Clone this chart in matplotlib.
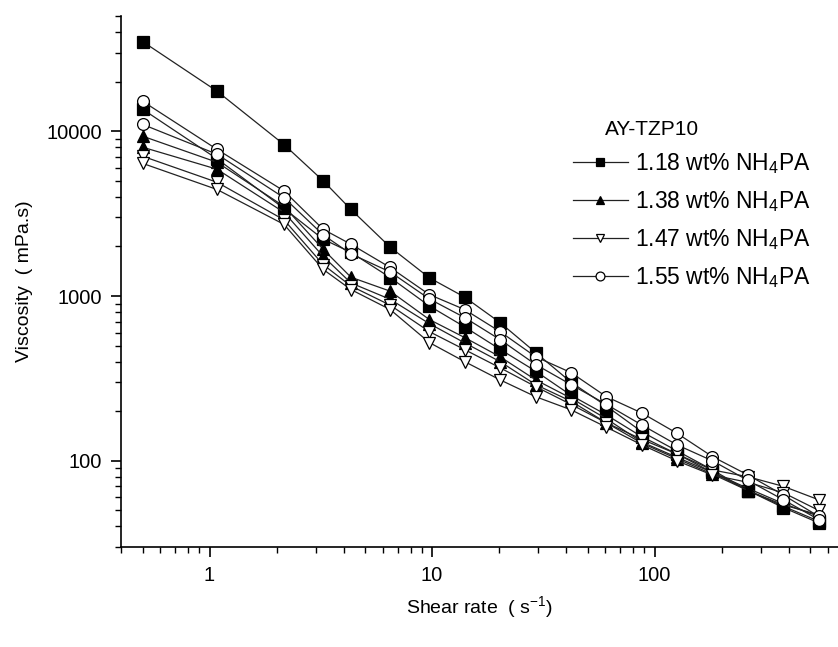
import matplotlib
matplotlib.use('Agg')
import matplotlib.pyplot as plt
from matplotlib.ticker import FixedLocator, LogLocator, NullFormatter, FuncFormatter

plt.rcParams['font.family'] = ['Liberation Sans', 'DejaVu Sans']
plt.rcParams['mathtext.default'] = 'regular'

# shear rate steps (s^-1)
shear = [0.5, 1.08, 2.16, 3.24, 4.32, 6.48, 9.72, 14.0, 20.2, 29.2,
         42.1, 60.7, 87.6, 126, 182, 263, 379, 547]

# viscosity (mPa.s), two runs per dispersant content
visc_118a = [35000, 17500, 8300, 5000, 3350, 1980, 1290, 985, 690, 454,
             300, 215, 150, 115, 88, 66, 53, 43]
visc_118b = [13600, 6800, 3400, 2210, 1840, 1295, 870, 650, 475, 350,
             250, 190, 140, 110, 85, 66, 52, 42]
visc_138a = [9330, 6480, 3500, 1920, 1300, 1070, 720, 560, 428, 310,
             240, 180, 130, 105, 85, 68, 55, 46]
visc_138b = [8000, 5880, 3220, 1740, 1200, 955, 680, 520, 400, 290,
             230, 170, 128, 103, 83, 66, 54, 47]
visc_147a = [7050, 4900, 2900, 1550, 1150, 880, 608, 473, 367, 282,
             220, 170, 135, 110, 88, 80, 70, 58]
visc_147b = [6380, 4430, 2720, 1450, 1094, 828, 522, 400, 310, 245,
             204, 160, 125, 100, 82, 74, 64, 50]
visc_155a = [15200, 7760, 4340, 2540, 2060, 1490, 1020, 828, 608, 428,
             343, 245, 195, 147, 106, 82, 62, 46]
visc_155b = [11000, 7250, 3950, 2350, 1800, 1400, 960, 740, 544, 384,
             290, 220, 165, 125, 100, 76, 58, 44]

labels = ['1.18 wt% NH$_4$PA', '1.38 wt% NH$_4$PA',
          '1.47 wt% NH$_4$PA', '1.55 wt% NH$_4$PA']

fig = plt.figure(figsize=(8.38, 6.47), dpi=100)
ax = fig.add_axes([121 / 838, 1 - 547 / 647, (838 - 121) / 838, (547 - 16) / 647])

estilos = [
    (visc_118a, 's', 'black', labels[0]),
    (visc_118b, 's', 'black', None),
    (visc_138a, '^', 'black', labels[1]),
    (visc_138b, '^', 'black', None),
    (visc_147a, 'v', 'white', labels[2]),
    (visc_147b, 'v', 'white', None),
    (visc_155a, 'o', 'white', labels[3]),
    (visc_155b, 'o', 'white', None),
]
for datos, mk, fc, lab in estilos:
    ax.plot(shear, datos, color='#222222', lw=0.9, marker=mk, ms=8.5,
            mfc=fc, mec='black', mew=0.9, label=lab)

ax.set_xscale('log')
ax.set_yscale('log')
ax.set_xlim(0.4, 667)
ax.set_ylim(30, 50000)

ax.xaxis.set_major_locator(FixedLocator([1, 10, 100]))
ax.yaxis.set_major_locator(FixedLocator([100, 1000, 10000]))
ax.xaxis.set_minor_locator(LogLocator(base=10, subs=range(2, 10)))
ax.yaxis.set_minor_locator(LogLocator(base=10, subs=range(2, 10)))
fmt = FuncFormatter(lambda v, p: '{0:g}'.format(v))
ax.xaxis.set_major_formatter(fmt)
ax.yaxis.set_major_formatter(fmt)
ax.xaxis.set_minor_formatter(NullFormatter())
ax.yaxis.set_minor_formatter(NullFormatter())

ax.spines['top'].set_visible(False)
ax.spines['right'].set_visible(False)
for s in ['left', 'bottom']:
    ax.spines[s].set_linewidth(1.2)
ax.tick_params(which='major', direction='out', length=7.5, width=1.2,
               labelsize=14.5, pad=6)
ax.tick_params(which='minor', direction='out', length=4.5, width=1.0)

ax.set_xlabel('Shear rate  ( s$^{-1}$)', fontsize=14, labelpad=7)
ax.set_ylabel('Viscosity  ( mPa.s)', fontsize=14, labelpad=10)

ax.text(0.675, 0.787, 'AY-TZP10', transform=ax.transAxes, fontsize=15,
        ha='left', va='center')
leg = ax.legend(loc='upper left', bbox_to_anchor=(0.63, 0.745), frameon=False,
                fontsize=16.5, handlelength=2.4, handletextpad=0.3,
                labelspacing=0.57, markerscale=0.75, borderaxespad=0,
                borderpad=0)

fig.savefig('out.png', dpi=100)
